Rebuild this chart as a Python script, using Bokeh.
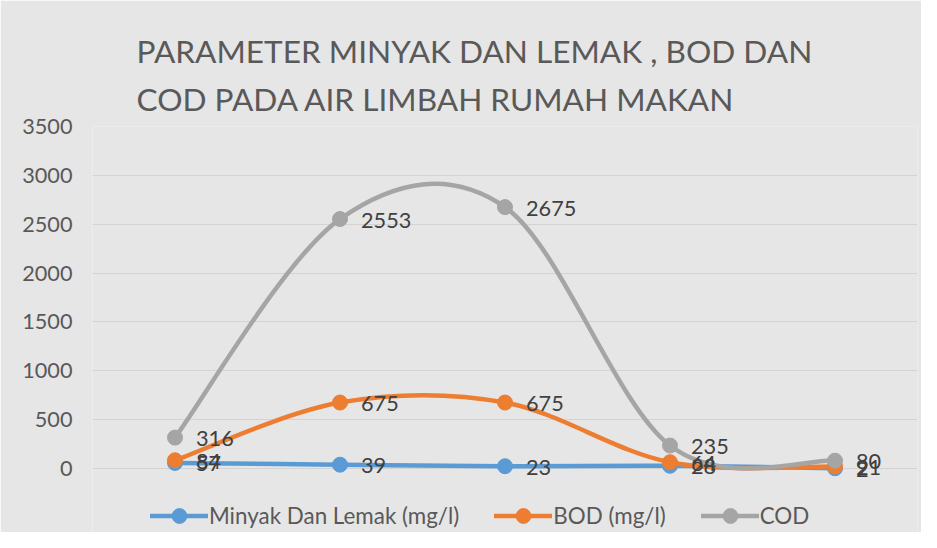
from bokeh.plotting import figure
from bokeh.models import Range1d, FixedTicker, Legend, LegendItem, Title, ColumnDataSource
from bokeh.core.properties import value
from bokeh.embed import file_html
from bokeh.resources import INLINE

# ---- data ----
categories = [1, 2, 3, 4, 5]
minyak = [57, 39, 23, 28, 2]
bod = [84, 675, 675, 64, 21]
cod = [316, 2553, 2675, 235, 80]
series_names = ["Minyak Dan Lemak (mg/l)", "BOD (mg/l)", "COD"]
y_ticks = [0, 500, 1000, 1500, 2000, 2500, 3000, 3500]

colors = ["#5B9BD5", "#ED7D31", "#A5A5A5"]
FONT = "Lato"

W, H = 921, 532
p = figure(width=W, height=H, output_backend="svg", toolbar_location=None,
           x_range=Range1d(0.5, 5.5), y_range=Range1d(-655, 3500),
           min_border_left=92, min_border_right=4, min_border_top=126, min_border_bottom=0)
p.background_fill_color = "#e6e6e6"
p.border_fill_color = "#e6e6e6"
p.outline_line_color = None
p.xaxis.visible = False
p.xgrid.grid_line_color = None
p.ygrid.grid_line_color = "#d3d3d3"
p.ygrid.ticker = FixedTicker(ticks=y_ticks)
ya = p.yaxis[0]
ya.ticker = FixedTicker(ticks=y_ticks)
ya.axis_line_color = None
ya.major_tick_line_color = None
ya.minor_tick_line_color = None
ya.major_tick_out = 0
ya.major_label_standoff = 20
ya.major_label_text_font = FONT
ya.major_label_text_font_size = "21.7px"
ya.major_label_text_color = "#595959"

t2 = Title(text="COD PADA AIR LIMBAH RUMAH MAKAN", align="left", offset=44, text_font=FONT,
           text_font_size="31.6px", text_color="#595959", text_font_style="normal", standoff=17)
t1 = Title(text="PARAMETER MINYAK DAN LEMAK , BOD DAN", align="left", offset=44, text_font=FONT,
           text_font_size="31.6px", text_color="#595959", text_font_style="normal", standoff=0)
p.add_layout(t2, "above")
p.add_layout(t1, "above")


def smooth_segments(xs, ys):
    # Catmull-Rom style cubic bezier control points (Excel "smoothed line")
    n = len(xs)
    out = dict(x0=[], y0=[], x1=[], y1=[], cx0=[], cy0=[], cx1=[], cy1=[])
    for i in range(n - 1):
        xp, yp = (xs[i - 1], ys[i - 1]) if i > 0 else (xs[i], ys[i])
        xn, yn = (xs[i + 2], ys[i + 2]) if i + 2 < n else (xs[i + 1], ys[i + 1])
        out["x0"].append(xs[i]); out["y0"].append(ys[i])
        out["x1"].append(xs[i + 1]); out["y1"].append(ys[i + 1])
        out["cx0"].append(xs[i] + (xs[i + 1] - xp) / 6)
        out["cy0"].append(ys[i] + (ys[i + 1] - yp) / 6)
        out["cx1"].append(xs[i + 1] - (xn - xs[i]) / 6)
        out["cy1"].append(ys[i + 1] - (yn - ys[i]) / 6)
    return out


items = []
for name, vals, col in zip(series_names, [minyak, bod, cod], colors):
    seg = ColumnDataSource(smooth_segments(categories, vals))
    bz = p.bezier(x0="x0", y0="y0", x1="x1", y1="y1", cx0="cx0", cy0="cy0", cx1="cx1", cy1="cy1",
                  source=seg, line_color=col, line_width=4.5, line_cap="round")
    sc = p.scatter(x=categories, y=vals, size=15, fill_color=col, line_color=col, marker="circle")
    items.append(LegendItem(label=name, renderers=[bz, sc]))

for vals in [minyak, bod, cod]:
    src = ColumnDataSource(dict(x=categories, y=vals, t=[str(v) for v in vals]))
    p.text(x="x", y="y", text="t", source=src, x_offset=21, y_offset=1, text_baseline="middle",
           text_align="left", text_font=value(FONT), text_font_size="21.7px", text_color="#404040")

legend = Legend(items=items, orientation="horizontal", location=(58, -2),
                glyph_width=58, glyph_height=37, label_standoff=1, spacing=35,
                label_text_font=FONT, label_text_font_size="22.4px", label_text_color="#595959",
                background_fill_alpha=0, border_line_color=None, padding=0, margin=0)
p.add_layout(legend)

open("out.html", "w").write(file_html(p, INLINE))
